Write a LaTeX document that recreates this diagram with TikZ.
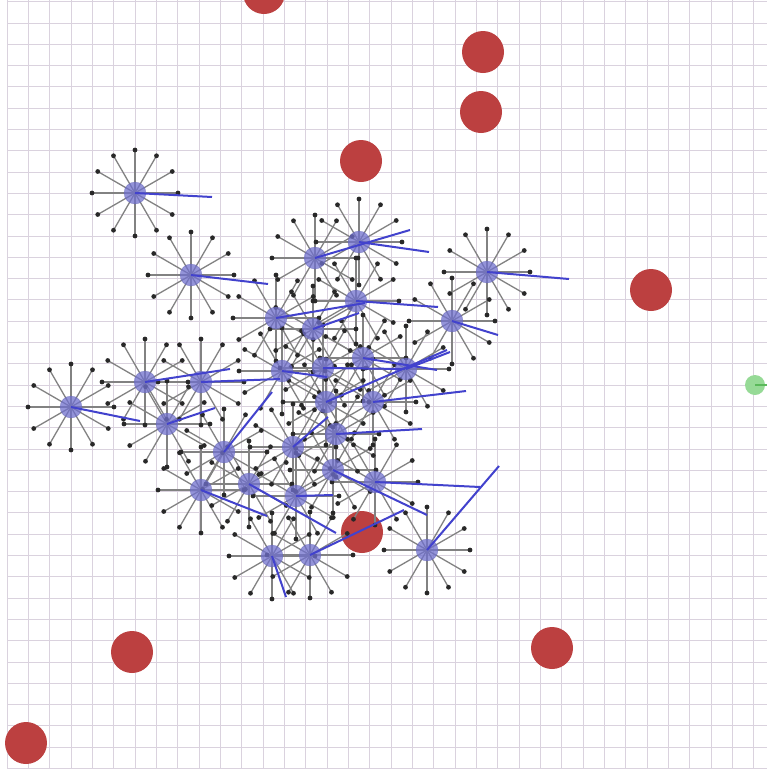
\documentclass[tikz,border=0pt]{standalone}
\definecolor{gridc}{RGB}{218,210,222}
\definecolor{obst}{RGB}{188,64,64}
\definecolor{agentfill}{RGB}{112,112,205}
\definecolor{agentline}{RGB}{90,90,170}
\definecolor{headc}{RGB}{66,66,205}
\definecolor{spokec}{RGB}{130,130,130}
\definecolor{dotc}{RGB}{40,40,40}
\definecolor{goalc}{RGB}{150,218,150}
\definecolor{goalline}{RGB}{90,185,90}
\tikzset{
  gridline/.style={gridc, line width=1pt},
  obstacle/.style={fill=obst},
  spoke/.style={spokec, line width=1.3pt},
  sensordot/.style={fill=dotc},
  agent/.style={circle, minimum size=22pt, inner sep=0pt, fill=agentfill, fill opacity=0.75, draw=agentline, draw opacity=0.5, line width=0.4pt},
  heading/.style={headc, line width=2pt},
  goal/.style={circle, minimum size=20pt, inner sep=0pt, fill=goalc},
}
\begin{document}
\begin{tikzpicture}[x=1pt,y=-1pt]
\useasboundingbox (0,0) rectangle (767,769);
\fill[white] (0,0) rectangle (767,769);
% grid
\foreach \k in {0,...,35} \draw[gridline] ({7.3+21.33*\k},0) -- ({7.3+21.33*\k},769);
\foreach \k in {0,...,36} \draw[gridline] (7.3,{1.7+21.3*\k}) -- (767,{1.7+21.3*\k});
% obstacles
\foreach \x/\y [count=\i] in {264/-7, 483/52, 481/112, 361/161, 651/290, 362/532, 132/652, 552/648, 26/743}
  \fill[obstacle] (\x,\y) circle (21pt);
% goal
\node[goal] (goal) at (755,385) {};
\coordinate (goalhead) at (767,385);
\draw[goalline, line width=1.4pt] (goal.center) -- (goalhead);
% agents: x/y/heading-x/heading-y
\def\agents{135/193/212/197, 191/275/268/284, 315/258/410/230, 359/242/429/252, 487/272/569/279, 276/318/365/303, 356/301/438/307, 313/329/359/313, 452/321/498/335, 145/382/230/369, 201/382/280/379, 71/407/140/421, 167/424/215/408, 282/371/327/377, 323/368/405/369, 363/358/437/370, 326/402/447/350, 373/402/466/391, 406/369/450/352, 224/452/272/392, 293/447/328/417, 336/434/422/429, 201/490/267/516, 249/484/336/533, 296/496/333/495, 333/470/427/515, 375/482/480/487, 272/556/286/597, 310/555/404/510, 427/550/499/466}
\foreach \x/\y/\hx/\hy [count=\i] in \agents {
  \coordinate (ag\i) at (\x,\y);
  \coordinate (hd\i) at (\hx,\hy);
}
% sensor spokes
\foreach \i in {1,...,30}
  \foreach \a in {0,30,...,330}
    \draw[spoke] (ag\i) -- ++(\a:43pt);
% sensor end dots
\foreach \i in {1,...,30}
  \foreach \a in {0,30,...,330}
    \fill[sensordot] (ag\i) ++(\a:43pt) circle (2.4pt);
% agent bodies
\foreach \i in {1,...,30}
  \node[agent] (body\i) at (ag\i) {};
% headings
\foreach \i in {1,...,30}
  \draw[heading] (body\i.center) -- (hd\i);
\end{tikzpicture}
\end{document}
